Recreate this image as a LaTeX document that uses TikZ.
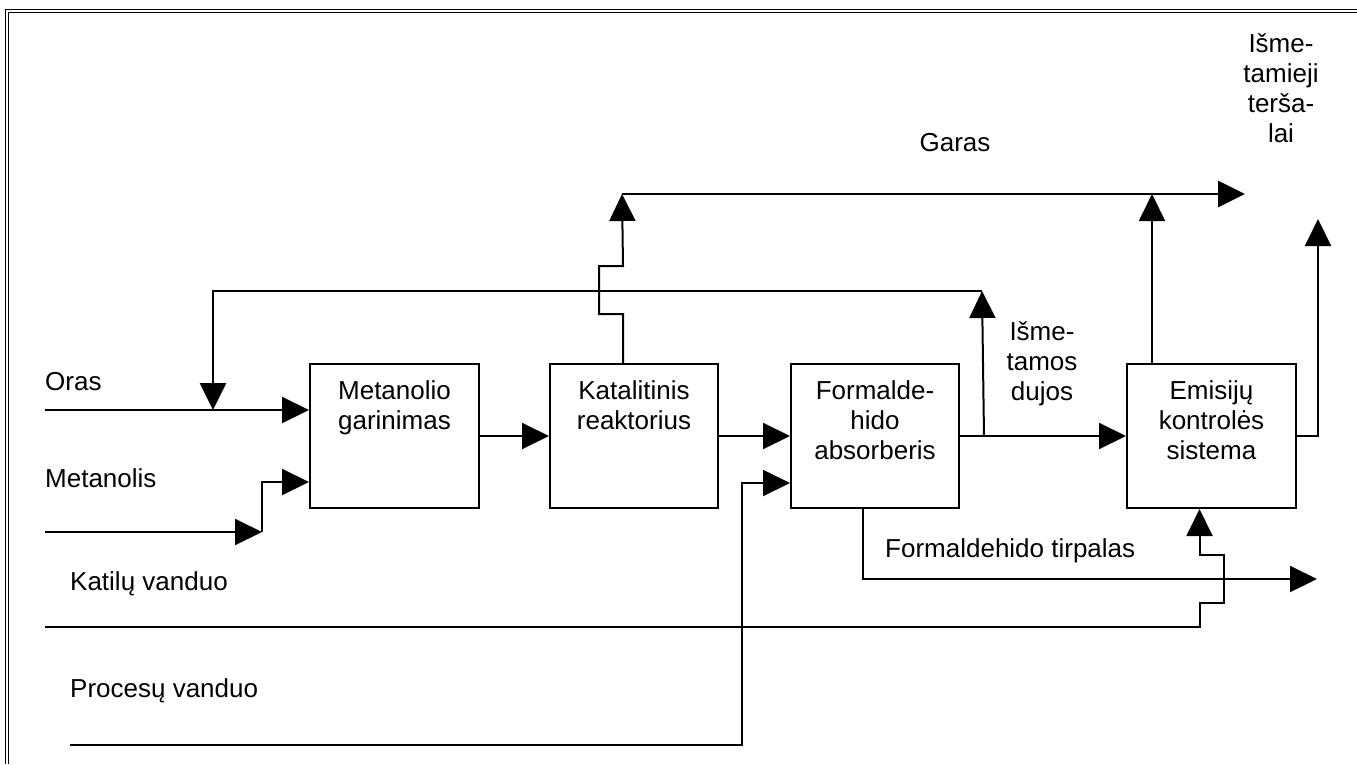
\documentclass[tikz,border=0pt]{standalone}
\usepackage{fontspec}
\setmainfont{Liberation Sans}
\usetikzlibrary{arrows.meta,calc}
\begin{document}
\begin{tikzpicture}[x=1pt,y=-1pt,
  box/.style={draw, line width=2pt, minimum width=169pt, minimum height=144pt, inner sep=0pt, anchor=north west},
  txt/.style={font=\fontsize{26}{30}\selectfont, inner sep=0pt, align=center, anchor=base},
  lbl/.style={font=\fontsize{26}{30}\selectfont, inner sep=0pt, anchor=base west},
  arr/.style={-{Triangle[length=27pt,width=26pt]}, line width=2pt},
  ln/.style={line width=2pt},
  heavy/.style={line width=2.7pt},
  frame/.style={line width=1.2pt}]
\useasboundingbox (0,0) rectangle (1357,764);
% frame
\draw[frame] (5.5,764) -- (5.5,9.7) -- (1357,9.7);
\draw[frame] (8.3,764) -- (8.3,12.7) -- (1357,12.7);
% boxes
\node[box] (mg) at (309,363) {};
\node[box, minimum width=168pt] (kr) at (549,363) {};
\node[box, minimum width=168pt] (fa) at (790,363) {};
\node[box] (ek) at (1126,363) {};
% multi-line texts: anchor base = baseline of the last line
\node[txt] (mgt) at ($(mg.north)+(0,66)$) {Metanolio\\garinimas};
\node[txt] (krt) at ($(kr.north)+(0,66)$) {Katalitinis\\reaktorius};
\node[txt] (fat) at ($(fa.north)+(0,96)$) {Formalde-\\hido\\absorberis};
\node[txt] (ekt) at ($(ek.north)+(0,96)$) {Emisijų\\kontrolės\\sistema};
% labels
\node[lbl] (lor) at (45,390) {Oras};
\node[lbl] (lme) at (45,487) {Metanolis};
\node[lbl] (lka) at (70,590) {Katilų vanduo};
\node[lbl] (lpr) at (70,697) {Procesų vanduo};
\node[txt] (lga) at (955,151) {Garas};
\node[lbl] (lft) at (885,557) {Formaldehido tirpalas};
\node[txt] (lid) at (1042,400) {Išme-\\tamos\\dujos};
\node[txt] (lit) at (1281,142) {Išme-\\tamieji\\terša-\\lai};
% coordinates
\coordinate (orasS) at (45,410);
\coordinate (fbL) at (213,291);
\coordinate (fbR) at (982,291);
\coordinate (metS) at (45,532);
\coordinate (metJ) at (262,532);
\coordinate (metB) at (262,482);
\coordinate (garS) at (622,194);
\coordinate (garE) at (1245,194);
\coordinate (tersa) at (1318,219);
\coordinate (tirp) at (1317,579);
\coordinate (katS) at (45,627);
\coordinate (procS) at (70,745);
\coordinate (procU) at (742,483);
% connectors
\draw[arr] (orasS) -- (orasS -| mg.west);
\draw[arr, heavy] (fbR) -- (fbL) -- (fbL |- orasS);
\draw[arr] (metS) -- (metJ);
\draw[arr] (metJ) -- (metB) -- (metB -| mg.west);
\draw[arr] (mg.east) -- (kr.west);
\draw[arr] (kr.east) -- (fa.west);
\draw[arr] (fa.east) -- (ek.west);
\coordinate (split) at ($(fa.east)+(24,0)$);
\draw[arr] (split) -- (fbR);
\coordinate (k0) at ($(kr.north)+(-11,0)$);
\draw[arr] (k0) -- ++(0,-49) -- ++(-24,0) -- ++(0,-48) -- ++(24,0) -- (garS);
\draw[arr, heavy] (garS) -- (garE);
\coordinate (ekU) at ($(ek.north west)+(26,0)$);
\draw[arr] (ekU) -- (ekU |- garS);
\draw[arr] (ek.east) -- (ek.east -| tersa) -- (tersa);
\coordinate (fa0) at ($(fa.south)+(-12,0)$);
\draw[arr] (fa0) -- (fa0 |- tirp) -- (tirp);
\coordinate (ek0) at ($(ek.south)+(-12,0)$);
\draw[arr] (katS) -- (katS -| ek0) -- ++(0,-24) -- ++(24,0) -- ++(0,-48) -- ++(-24,0) -- (ek0);
\draw[arr] (procS) -- (procS -| procU) -- (procU) -- (procU -| fa.west);
\end{tikzpicture}
\end{document}
